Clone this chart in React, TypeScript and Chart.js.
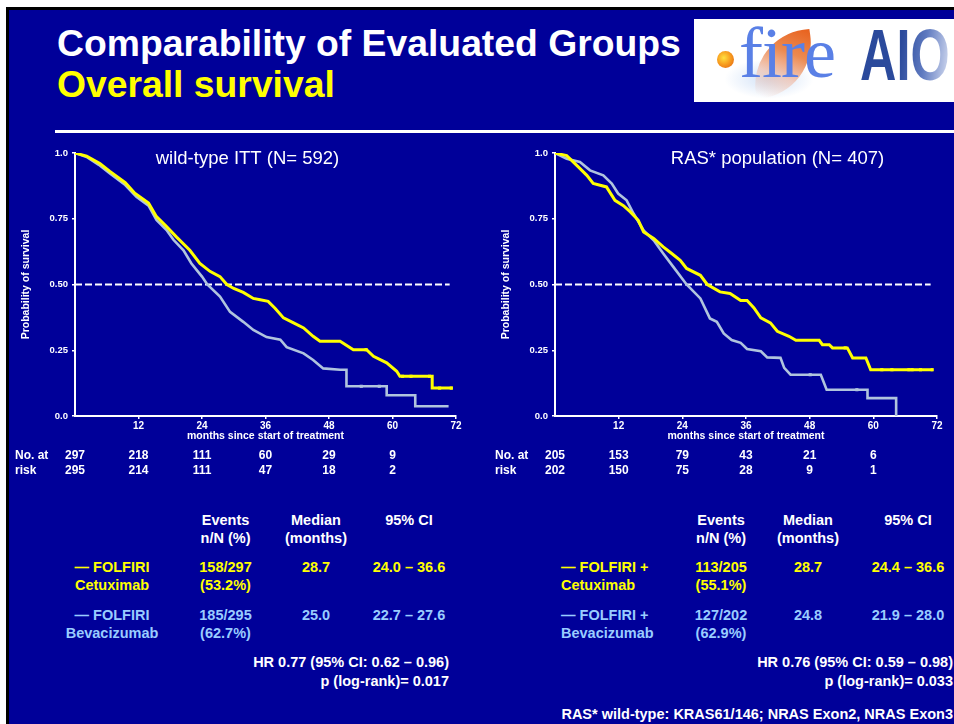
import React, { useEffect, useRef } from "react";
import { Chart, registerables } from "chart.js";

Chart.register(...registerables);

// ---- Kaplan–Meier curves (months, survival probability) ----
const wtCetMonths = [0, 2.2, 4.7, 6.6, 9.5, 11.3, 13.9, 15.4, 17.3, 19.2, 21.7, 23.6, 25.5, 27.4, 28.7, 30.0, 31.8, 33.7, 35.0, 36.5, 37.8, 39.4, 41.3, 43.2, 45.0, 46.3, 50.1, 52.6, 55.1, 56.4, 58.9, 60.8, 61.4, 67.5, 67.5, 71.4];
const wtCetSurv = [1.0, 0.988, 0.96, 0.93, 0.887, 0.847, 0.81, 0.758, 0.72, 0.68, 0.63, 0.58, 0.55, 0.53, 0.5, 0.485, 0.47, 0.447, 0.442, 0.436, 0.41, 0.373, 0.354, 0.335, 0.303, 0.284, 0.284, 0.252, 0.252, 0.227, 0.202, 0.17, 0.151, 0.151, 0.106, 0.106];

const wtBevMonths = [0, 2.2, 4.5, 6.6, 9.5, 11.6, 13.9, 15.4, 17.3, 18.6, 20.5, 22.0, 24.0, 25.0, 27.4, 29.3, 31.8, 33.7, 36.2, 38.8, 40.0, 43.2, 45.0, 46.9, 50.1, 51.3, 51.3, 58.9, 58.9, 64.3, 64.3, 70.6];
const wtBevSurv = [1.0, 0.985, 0.955, 0.922, 0.878, 0.834, 0.8, 0.745, 0.707, 0.67, 0.63, 0.58, 0.53, 0.5, 0.454, 0.396, 0.358, 0.327, 0.3, 0.29, 0.262, 0.238, 0.213, 0.181, 0.176, 0.176, 0.113, 0.113, 0.079, 0.079, 0.037, 0.037];

const rasCetMonths = [0, 2.2, 4.1, 6.0, 7.2, 9.7, 11.3, 12.9, 14.2, 15.7, 16.7, 18.6, 20.4, 22.0, 23.6, 24.8, 27.4, 28.7, 31.1, 33.0, 35.0, 36.2, 37.5, 38.8, 40.6, 41.9, 44.1, 45.4, 49.8, 50.4, 51.7, 52.3, 55.1, 56.1, 58.6, 59.5, 71.2];
const rasCetSurv = [1.0, 0.99, 0.953, 0.915, 0.884, 0.871, 0.82, 0.8, 0.776, 0.744, 0.7, 0.675, 0.643, 0.618, 0.592, 0.561, 0.535, 0.5, 0.472, 0.466, 0.439, 0.439, 0.411, 0.373, 0.354, 0.322, 0.303, 0.288, 0.288, 0.271, 0.271, 0.259, 0.259, 0.221, 0.221, 0.176, 0.176];

const rasBevMonths = [0, 2.2, 4.7, 6.6, 9.1, 10.7, 11.9, 13.5, 14.8, 16.7, 18.6, 20.4, 22.3, 24.2, 24.8, 27.4, 29.2, 30.5, 31.8, 33.3, 35.0, 36.2, 38.8, 40.0, 42.5, 43.2, 44.4, 50.1, 51.2, 58.9, 58.9, 64.3, 64.3];
const rasBevSurv = [1.0, 0.978, 0.966, 0.934, 0.915, 0.884, 0.846, 0.82, 0.77, 0.706, 0.668, 0.618, 0.567, 0.516, 0.5, 0.447, 0.371, 0.358, 0.314, 0.289, 0.278, 0.255, 0.246, 0.223, 0.221, 0.183, 0.157, 0.157, 0.1, 0.1, 0.068, 0.068, 0];

// censored observations in the tails
const wtCetCensMonths = [55.0, 61.9, 63.5, 67.0, 68.9, 71.1];
const wtCetCensSurv = [0.252, 0.151, 0.151, 0.151, 0.106, 0.106];
const wtBevCensMonths = [54.1, 57.5];
const wtBevCensSurv = [0.113, 0.113];
const rasCetCensMonths = [54.7, 61.6, 63.5, 66.7, 67.3, 68.9, 71.1];
const rasCetCensSurv = [0.259, 0.176, 0.176, 0.176, 0.176, 0.176, 0.176];
const rasBevCensMonths = [48.1, 56.9];
const rasBevCensSurv = [0.157, 0.1];

// ---- axes ----
const xTickValues = [12, 24, 36, 48, 60, 72];
const yTickValues = [0, 0.25, 0.5, 0.75, 1.0];
const yTickLabels = ["0.0", "0.25", "0.50", "0.75", "1.0"];
const medianLine = 0.5;
const medianLineEnd = 70.8;

// ---- numbers at risk ----
const atRiskMonths = [0, 12, 24, 36, 48, 60];
const wtCetAtRisk = [297, 218, 111, 60, 29, 9];
const wtBevAtRisk = [295, 214, 111, 47, 18, 2];
const rasCetAtRisk = [205, 153, 79, 43, 21, 6];
const rasBevAtRisk = [202, 150, 75, 28, 9, 1];

// ---- summary tables ----
const wtEvents = [["158/297", "(53.2%)"], ["185/295", "(62.7%)"]];
const wtMedian = ["28.7", "25.0"];
const wtCI = ["24.0 – 36.6", "22.7 – 27.6"];
const rasEvents = [["113/205", "(55.1%)"], ["127/202", "(62.9%)"]];
const rasMedian = ["28.7", "24.8"];
const rasCI = ["24.4 – 36.6", "21.9 – 28.0"];

const FONT = '"Liberation Sans", Arial, Helvetica, sans-serif';
const SLIDE = "#000099";
const YELLOW = "#FFFF00";
const STEEL = "#B0C4DE";
const LIGHTBLUE = "#99CCFF";

const pts = (xs: number[], ys: number[]) => xs.map((x, i) => ({ x, y: ys[i] }));

type KMConfig = {
  title: string;
  titleX: number;
  cet: { x: number; y: number }[];
  bev: { x: number; y: number }[];
  cetCens: { x: number; y: number }[];
  bevCens: { x: number; y: number }[];
  cetRisk: number[];
  bevRisk: number[];
  rightPad: number;
};

function decorPlugin(cfg: KMConfig) {
  return {
    id: "kmDecor",
    afterDraw(chart: any) {
      const { ctx, chartArea, scales } = chart;
      const xs = scales.x;
      ctx.save();
      ctx.fillStyle = "#fff";
      ctx.textBaseline = "middle";
      ctx.textAlign = "center";
      ctx.font = `18.5px ${FONT}`;
      ctx.fillText(cfg.title, cfg.titleX, 19);

      ctx.font = `bold 10.5px ${FONT}`;
      ctx.fillText("months since start of treatment", (chartArea.left + chartArea.right) / 2, 296);
      ctx.save();
      ctx.translate(26, (chartArea.top + chartArea.bottom) / 2);
      ctx.rotate(-Math.PI / 2);
      ctx.fillText("Probability of survival", 0, 0);
      ctx.restore();

      ctx.font = `bold 12px ${FONT}`;
      ctx.textAlign = "left";
      ctx.fillText("No. at", 15, 316);
      ctx.fillText("risk", 15, 331);
      ctx.textAlign = "center";
      atRiskMonths.forEach((m, i) => {
        const px = xs.getPixelForValue(m);
        ctx.fillText(String(cfg.cetRisk[i]), px, 316);
        ctx.fillText(String(cfg.bevRisk[i]), px, 331);
      });
      ctx.restore();
    },
  };
}

function KMChart({ left, width, cfg }: { left: number; width: number; cfg: KMConfig }) {
  const ref = useRef<HTMLCanvasElement>(null);
  useEffect(() => {
    const chart = new Chart(ref.current as HTMLCanvasElement, {
      type: "line",
      data: {
        datasets: [
          { data: cfg.cet, borderColor: YELLOW, borderWidth: 3, pointRadius: 0, fill: false },
          { data: cfg.cetCens, showLine: false, pointStyle: "rect", pointRadius: 2.2, backgroundColor: YELLOW, borderColor: YELLOW, borderWidth: 0 },
          { data: cfg.bev, borderColor: STEEL, borderWidth: 2.6, pointRadius: 0, fill: false },
          { data: cfg.bevCens, showLine: false, pointStyle: "rect", pointRadius: 2.2, backgroundColor: STEEL, borderColor: STEEL, borderWidth: 0 },
          {
            data: [{ x: 0, y: medianLine }, { x: medianLineEnd, y: medianLine }],
            borderColor: "#fff",
            borderWidth: 2,
            borderDash: [7, 3],
            pointRadius: 0,
          },
        ],
      } as any,
      options: {
        animation: false,
        responsive: false,
        maintainAspectRatio: false,
        parsing: false,
        normalized: true,
        layout: { padding: { left: 0, top: 13, right: cfg.rightPad, bottom: 0 } },
        plugins: { legend: { display: false }, tooltip: { enabled: false }, title: { display: false } },
        elements: { line: { tension: 0 } },
        scales: {
          x: {
            type: "linear",
            min: 0,
            max: 72,
            afterBuildTicks: (s: any) => {
              s.ticks = xTickValues.map((v) => ({ value: v }));
            },
            afterFit: (s: any) => {
              s.height = 69;
            },
            ticks: {
              color: "#fff",
              font: { family: FONT, size: 10, weight: "bold" },
              padding: 1,
              maxRotation: 0,
              autoSkip: false,
              callback: (v: any) => String(v),
            },
            grid: { drawOnChartArea: false, drawTicks: true, tickLength: 3, color: "#fff", lineWidth: 1.5 },
            border: { color: "#fff", width: 2 },
          },
          y: {
            type: "linear",
            min: 0,
            max: 1,
            afterBuildTicks: (s: any) => {
              s.ticks = yTickValues.map((v) => ({ value: v }));
            },
            afterFit: (s: any) => {
              s.width = 75;
            },
            ticks: {
              color: "#fff",
              font: { family: FONT, size: 9.5, weight: "bold" },
              padding: 4,
              autoSkip: false,
              callback: (v: any) => {
                const i = yTickValues.indexOf(Number(v));
                return i >= 0 ? yTickLabels[i] : "";
              },
            },
            grid: { drawOnChartArea: false, drawTicks: true, tickLength: 3, color: "#fff", lineWidth: 1.5 },
            border: { color: "#fff", width: 2 },
          },
        },
      } as any,
      plugins: [decorPlugin(cfg)],
    });
    return () => chart.destroy();
  }, []);
  return (
    <canvas
      ref={ref}
      width={width}
      height={345}
      style={{ position: "absolute", left, top: 140, width, height: 345 }}
    />
  );
}

function T({
  x,
  y,
  align = "center",
  color = "#fff",
  size = 14.5,
  children,
}: {
  x: number;
  y: number;
  align?: "left" | "center" | "right";
  color?: string;
  size?: number;
  children: React.ReactNode;
}) {
  const shift = align === "center" ? "translateX(-50%)" : align === "right" ? "translateX(-100%)" : "none";
  return (
    <div
      style={{
        position: "absolute",
        left: x,
        top: y - 9,
        lineHeight: "18px",
        height: 18,
        fontSize: size,
        fontWeight: "bold",
        color,
        whiteSpace: "nowrap",
        transform: shift,
        fontFamily: FONT,
      }}
    >
      {children}
    </div>
  );
}

function Summary({
  labelX,
  labelAlign,
  rowLabels,
  events,
  median,
  ci,
  eventsX,
  medianX,
  ciX,
  hr,
  p,
  rightX,
}: any) {
  const rowsY = [
    [567, 585],
    [615, 633],
  ];
  const colors = [YELLOW, LIGHTBLUE];
  return (
    <>
      <T x={eventsX} y={520}>Events</T>
      <T x={eventsX} y={538}>n/N (%)</T>
      <T x={medianX} y={520}>Median</T>
      <T x={medianX} y={538}>(months)</T>
      <T x={ciX} y={520}>95% CI</T>
      {rowsY.map((ry, i) => (
        <React.Fragment key={i}>
          <T x={labelX} y={ry[0]} align={labelAlign} color={colors[i]}>{rowLabels[i][0]}</T>
          <T x={labelX} y={ry[1]} align={labelAlign} color={colors[i]}>{rowLabels[i][1]}</T>
          <T x={eventsX} y={ry[0]} color={colors[i]}>{events[i][0]}</T>
          <T x={eventsX} y={ry[1]} color={colors[i]}>{events[i][1]}</T>
          <T x={medianX} y={ry[0]} color={colors[i]}>{median[i]}</T>
          <T x={ciX} y={ry[0]} color={colors[i]}>{ci[i]}</T>
        </React.Fragment>
      ))}
      <T x={rightX} y={662} align="right">{hr}</T>
      <T x={rightX} y={681} align="right">{p}</T>
    </>
  );
}

function Logo() {
  return (
    <div
      style={{
        position: "absolute",
        left: 694,
        top: 19,
        width: 270,
        height: 83,
        background: "#fff",
        overflow: "hidden",
      }}
    >
      {/* soft blue haze behind the flame */}
      <div
        style={{
          position: "absolute",
          left: 30,
          top: 40,
          width: 90,
          height: 40,
          borderRadius: "50%",
          background: "radial-gradient(ellipse at center, rgba(170,200,240,0.55), rgba(255,255,255,0) 70%)",
        }}
      />
      {/* flame */}
      <div
        style={{
          position: "absolute",
          left: 58,
          top: 14,
          width: 62,
          height: 62,
          borderRadius: "90% 0 90% 0",
          transform: "rotate(-8deg)",
          background:
            "linear-gradient(210deg, #E8601C 0%, #EC8A50 35%, rgba(240,190,170,0.7) 65%, rgba(255,255,255,0) 95%)",
        }}
      />
      {/* dot */}
      <div
        style={{
          position: "absolute",
          left: 23,
          top: 32,
          width: 17,
          height: 17,
          borderRadius: "50%",
          background: "radial-gradient(circle at 40% 40%, #FFE040 0%, #F8A020 45%, #E05A10 100%)",
        }}
      />
      <div
        style={{
          position: "absolute",
          left: 45,
          top: -2,
          fontFamily: '"Liberation Serif", "DejaVu Serif", serif',
          fontSize: 72,
          lineHeight: "72px",
          color: "#5A80E6",
          letterSpacing: -1,
        }}
      >
        fire
      </div>
      <div
        style={{
          position: "absolute",
          left: 166,
          top: 0,
          fontFamily: FONT,
          fontWeight: "bold",
          fontSize: 72,
          lineHeight: "72px",
          transform: "scaleX(0.7)",
          transformOrigin: "left top",
          backgroundImage: "linear-gradient(100deg, #2B4A9C 45%, #5F7AC0 70%, #DDE3F4 100%)",
          WebkitBackgroundClip: "text",
          backgroundClip: "text",
          color: "transparent",
        }}
      >
        AIO
      </div>
    </div>
  );
}

const leftCfg: KMConfig = {
  title: "wild-type ITT (N= 592)",
  titleX: 247.5,
  cet: pts(wtCetMonths, wtCetSurv),
  bev: pts(wtBevMonths, wtBevSurv),
  cetCens: pts(wtCetCensMonths, wtCetCensSurv),
  bevCens: pts(wtBevCensMonths, wtBevCensSurv),
  cetRisk: wtCetAtRisk,
  bevRisk: wtBevAtRisk,
  rightPad: 22,
};

const rightCfg: KMConfig = {
  title: "RAS* population (N= 407)",
  titleX: 297.5,
  cet: pts(rasCetMonths, rasCetSurv),
  bev: pts(rasBevMonths, rasBevSurv),
  cetCens: pts(rasCetCensMonths, rasCetCensSurv),
  bevCens: pts(rasBevCensMonths, rasBevCensSurv),
  cetRisk: rasCetAtRisk,
  bevRisk: rasBevAtRisk,
  rightPad: 17,
};

export default function App() {
  return (
    <div
      style={{
        position: "fixed",
        left: 0,
        top: 0,
        width: 954,
        height: 724,
        background: "#fff",
        overflow: "hidden",
        fontFamily: FONT,
      }}
    >
      <div
        style={{
          position: "absolute",
          left: 6,
          top: 7,
          width: 960,
          height: 730,
          background: SLIDE,
          borderTop: "3px solid #000",
          borderLeft: "3px solid #000",
        }}
      />
      <div
        style={{
          position: "absolute",
          left: 57,
          top: 25,
          fontSize: 37.3,
          lineHeight: "37px",
          fontWeight: "bold",
          color: "#fff",
          whiteSpace: "nowrap",
        }}
      >
        Comparability of Evaluated Groups
      </div>
      <div
        style={{
          position: "absolute",
          left: 57,
          top: 66,
          fontSize: 37.3,
          lineHeight: "37px",
          fontWeight: "bold",
          color: YELLOW,
          whiteSpace: "nowrap",
        }}
      >
        Overall survival
      </div>
      <Logo />
      <div style={{ position: "absolute", left: 55, top: 130, width: 910, height: 3, background: "#fff" }} />

      <KMChart left={0} width={478} cfg={leftCfg} />
      <KMChart left={480} width={474} cfg={rightCfg} />

      <Summary
        labelX={112}
        labelAlign="center"
        rowLabels={[
          ["— FOLFIRI", "Cetuximab"],
          ["— FOLFIRI", "Bevacizumab"],
        ]}
        events={wtEvents}
        median={wtMedian}
        ci={wtCI}
        eventsX={225.5}
        medianX={316}
        ciX={409}
        hr="HR 0.77 (95% CI: 0.62 – 0.96)"
        p="p (log-rank)= 0.017"
        rightX={449}
      />
      <Summary
        labelX={561}
        labelAlign="left"
        rowLabels={[
          ["— FOLFIRI +", "Cetuximab"],
          ["— FOLFIRI +", "Bevacizumab"],
        ]}
        events={rasEvents}
        median={rasMedian}
        ci={rasCI}
        eventsX={721}
        medianX={808}
        ciX={908}
        hr="HR 0.76 (95% CI: 0.59 – 0.98)"
        p="p (log-rank)= 0.033"
        rightX={953}
      />
      <T x={953} y={714} align="right">RAS* wild-type: KRAS61/146; NRAS Exon2, NRAS Exon3</T>
    </div>
  );
}
